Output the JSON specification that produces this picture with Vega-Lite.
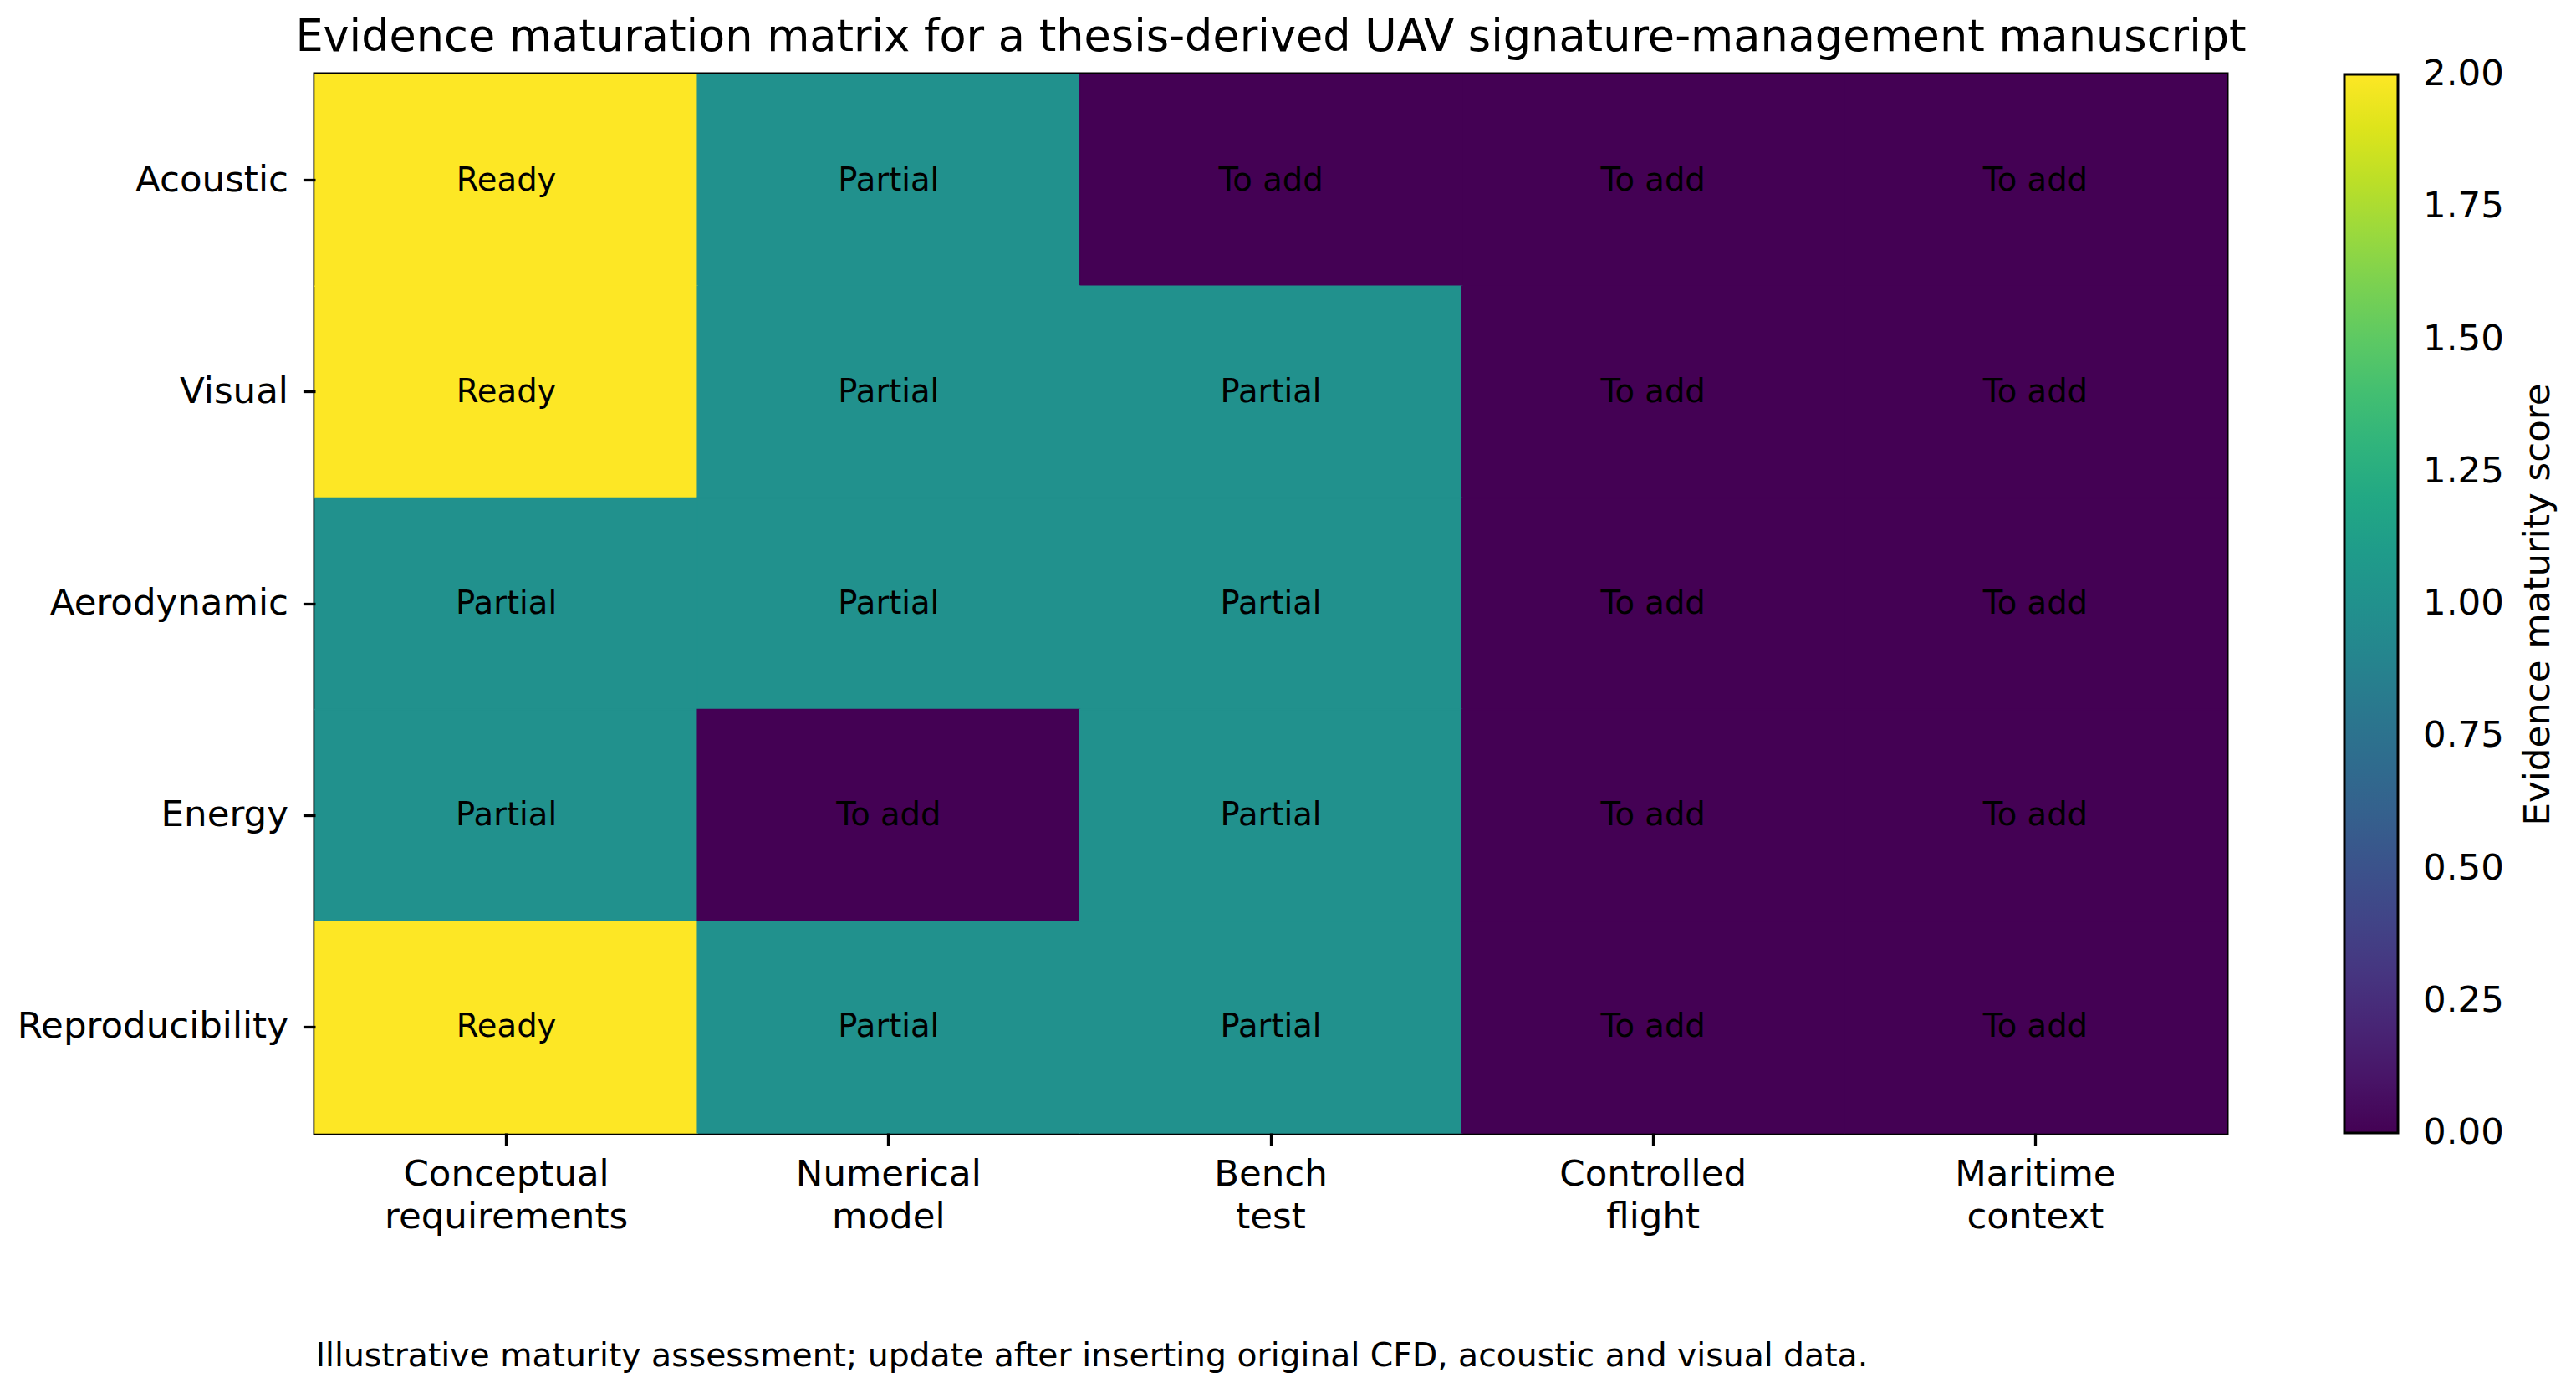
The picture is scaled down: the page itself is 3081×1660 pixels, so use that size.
{
  "$schema": "https://vega.github.io/schema/vega-lite/v6.json",
  "width": 2286,
  "height": 1266,
  "autosize": {"type": "none"},
  "padding": {"left": 377, "top": 89, "right": 418, "bottom": 305},
  "background": "white",
  "title": {
    "text": "Evidence maturation matrix for a thesis-derived UAV signature-management manuscript",
    "fontSize": 52.5,
    "font": "DejaVu Sans",
    "fontWeight": "normal",
    "anchor": "middle",
    "baseline": "alphabetic",
    "offset": -25,
    "color": "black",
    "limit": 0
  },
  "data": {
    "values": [
      {"dimension": "Acoustic", "stage": "Conceptual requirements", "score": 2, "status": "Ready"},
      {"dimension": "Acoustic", "stage": "Numerical model", "score": 1, "status": "Partial"},
      {"dimension": "Acoustic", "stage": "Bench test", "score": 0, "status": "To add"},
      {"dimension": "Acoustic", "stage": "Controlled flight", "score": 0, "status": "To add"},
      {"dimension": "Acoustic", "stage": "Maritime context", "score": 0, "status": "To add"},
      {"dimension": "Visual", "stage": "Conceptual requirements", "score": 2, "status": "Ready"},
      {"dimension": "Visual", "stage": "Numerical model", "score": 1, "status": "Partial"},
      {"dimension": "Visual", "stage": "Bench test", "score": 1, "status": "Partial"},
      {"dimension": "Visual", "stage": "Controlled flight", "score": 0, "status": "To add"},
      {"dimension": "Visual", "stage": "Maritime context", "score": 0, "status": "To add"},
      {"dimension": "Aerodynamic", "stage": "Conceptual requirements", "score": 1, "status": "Partial"},
      {"dimension": "Aerodynamic", "stage": "Numerical model", "score": 1, "status": "Partial"},
      {"dimension": "Aerodynamic", "stage": "Bench test", "score": 1, "status": "Partial"},
      {"dimension": "Aerodynamic", "stage": "Controlled flight", "score": 0, "status": "To add"},
      {"dimension": "Aerodynamic", "stage": "Maritime context", "score": 0, "status": "To add"},
      {"dimension": "Energy", "stage": "Conceptual requirements", "score": 1, "status": "Partial"},
      {"dimension": "Energy", "stage": "Numerical model", "score": 0, "status": "To add"},
      {"dimension": "Energy", "stage": "Bench test", "score": 1, "status": "Partial"},
      {"dimension": "Energy", "stage": "Controlled flight", "score": 0, "status": "To add"},
      {"dimension": "Energy", "stage": "Maritime context", "score": 0, "status": "To add"},
      {"dimension": "Reproducibility", "stage": "Conceptual requirements", "score": 2, "status": "Ready"},
      {"dimension": "Reproducibility", "stage": "Numerical model", "score": 1, "status": "Partial"},
      {"dimension": "Reproducibility", "stage": "Bench test", "score": 1, "status": "Partial"},
      {"dimension": "Reproducibility", "stage": "Controlled flight", "score": 0, "status": "To add"},
      {"dimension": "Reproducibility", "stage": "Maritime context", "score": 0, "status": "To add"}
    ]
  },
  "encoding": {
    "x": {
      "field": "stage",
      "type": "nominal",
      "sort": null,
      "scale": {"paddingInner": 0, "paddingOuter": 0},
      "axis": {
        "title": "Illustrative maturity assessment; update after inserting original CFD, acoustic and visual data.",
        "titleFontSize": 39.3,
        "titleFontWeight": "normal",
        "titleColor": "black",
        "titleAnchor": "start",
        "titleAlign": "left",
        "titleBaseline": "alphabetic",
        "titleLimit": 0,
        "titleX": 0,
        "titleY": 278,
        "labelAngle": 0,
        "labelFontSize": 43.5,
        "labelExpr": "split(datum.value, ' ')",
        "labelLineHeight": 51,
        "labelBaseline": "top",
        "labelColor": "black",
        "labelLimit": 0,
        "labelPadding": 14,
        "tickSize": 14.6,
        "tickWidth": 3.3,
        "tickColor": "black",
        "domain": false
      }
    },
    "y": {
      "field": "dimension",
      "type": "nominal",
      "sort": null,
      "scale": {"paddingInner": 0, "paddingOuter": 0},
      "axis": {
        "title": null,
        "labelFontSize": 43.5,
        "labelColor": "black",
        "labelLimit": 0,
        "labelPadding": 18,
        "tickSize": 14.6,
        "tickWidth": 3.3,
        "tickColor": "black",
        "domain": false
      }
    }
  },
  "layer": [
    {
      "mark": {"type": "rect", "strokeWidth": 1.5, "stroke": {"expr": "scale('color', datum.score)"}},
      "encoding": {
        "color": {
          "field": "score",
          "type": "quantitative",
          "scale": {"scheme": "viridis", "domain": [0, 2]},
          "legend": {
            "orient": "none",
            "legendX": 2427,
            "legendY": 0,
            "direction": "vertical",
            "gradientLength": 1266,
            "gradientThickness": 64,
            "gradientStrokeColor": "black",
            "gradientStrokeWidth": 3,
            "values": [0, 0.25, 0.5, 0.75, 1, 1.25, 1.5, 1.75, 2],
            "format": ".2f",
            "labelFontSize": 43.5,
            "labelColor": "black",
            "labelOffset": 30,
            "labelOverlap": false,
            "labelLimit": 0,
            "title": "Evidence maturity score",
            "titleOrient": "right",
            "titleFontSize": 43.5,
            "titleFontWeight": "normal",
            "titleColor": "black",
            "titleAnchor": "middle",
            "titlePadding": 63,
            "titleLimit": 0,
            "padding": 0,
            "encoding": {
              "labels": {"baseline": {"value": "middle"}},
              "title": {"angle": {"value": 270}}
            }
          }
        }
      }
    },
    {
      "mark": {"type": "text", "fontSize": 38.5, "color": "black", "baseline": "middle"},
      "encoding": {"text": {"field": "status"}}
    }
  ],
  "config": {
    "font": "DejaVu Sans",
    "view": {"stroke": "black", "strokeWidth": 5}
  }
}
